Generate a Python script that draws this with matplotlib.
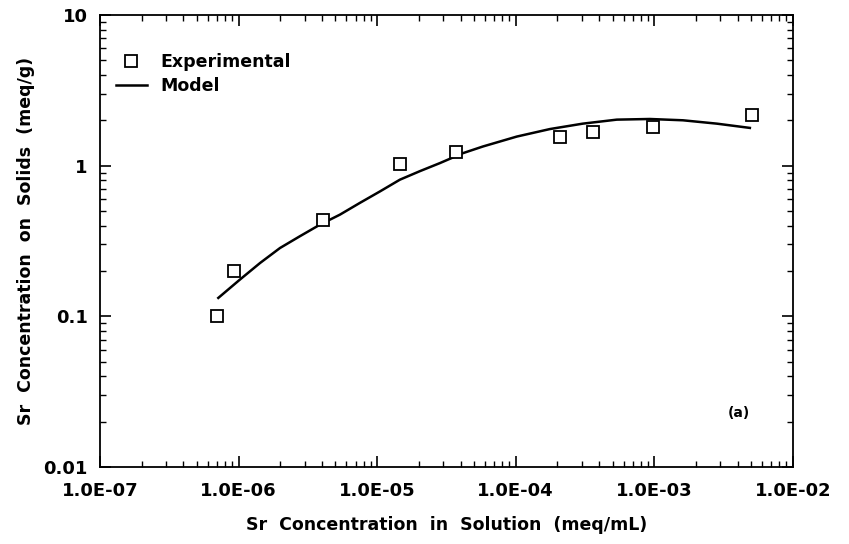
import matplotlib
matplotlib.use('Agg')
import matplotlib.pyplot as plt
import matplotlib.ticker as ticker
import numpy as np

# Experimental points
exp_conc_soln = [7.0e-7, 9.3e-7, 4.05e-6, 1.46e-5, 3.7e-5, 2.08e-4, 3.6e-4, 9.8e-4, 5.06e-3]
exp_conc_solid = [0.10, 0.20, 0.436, 1.03, 1.24, 1.56, 1.66, 1.81, 2.18]

# Model curve
model_conc_soln = [7.14e-7, 1.02e-6, 1.43e-6, 1.99e-6, 2.77e-6, 3.87e-6, 5.39e-6,
                   7.51e-6, 1.05e-5, 1.46e-5, 2.04e-5, 2.84e-5, 4.16e-5, 5.80e-5,
                   1.02e-4, 1.77e-4, 3.05e-4, 5.37e-4, 9.30e-4, 1.61e-3, 2.83e-3, 4.90e-3]
model_conc_solid = [0.1325, 0.175, 0.226, 0.284, 0.340, 0.406, 0.473,
                    0.566, 0.675, 0.807, 0.92, 1.04, 1.21, 1.34,
                    1.56, 1.75, 1.90, 2.02, 2.04, 2.00, 1.90, 1.78]

x_ticks = [1e-7, 1e-6, 1e-5, 1e-4, 1e-3, 1e-2]
x_tick_labels = ['1.0E-07', '1.0E-06', '1.0E-05', '1.0E-04', '1.0E-03', '1.0E-02']
y_ticks = [0.01, 0.1, 1, 10]
y_tick_labels = ['0.01', '0.1', '1', '10']

plt.rcParams['font.family'] = ['DejaVu Sans']
plt.rcParams['font.weight'] = 'bold'

fig = plt.figure(figsize=(8.49, 5.44), dpi=100)
ax = fig.add_axes([0.1178, 0.1415, 0.816, 0.831])

ax.plot(model_conc_soln, model_conc_solid, '-', color='black', linewidth=1.8, label='Model')
ax.plot(exp_conc_soln, exp_conc_solid, 's', markersize=9, markerfacecolor='white',
        markeredgecolor='black', markeredgewidth=1.3, label='Experimental')

ax.set_xscale('log')
ax.set_yscale('log')
ax.set_xlim(1e-7, 1e-2)
ax.set_ylim(0.01, 10)

ax.set_xticks(x_ticks)
ax.set_xticklabels(x_tick_labels)
ax.set_yticks(y_ticks)
ax.set_yticklabels(y_tick_labels)
ax.xaxis.set_minor_locator(ticker.LogLocator(base=10, subs=np.arange(2, 10)))
ax.yaxis.set_minor_locator(ticker.LogLocator(base=10, subs=np.arange(2, 10)))
ax.xaxis.set_minor_formatter(ticker.NullFormatter())
ax.yaxis.set_minor_formatter(ticker.NullFormatter())

ax.tick_params(which='both', direction='in', top=True, right=True, labelsize=13)
ax.tick_params(which='major', length=8, width=1.2)
ax.tick_params(which='minor', length=4.5, width=1.0)
ax.tick_params(axis='x', which='major', pad=11)
ax.tick_params(axis='y', which='major', pad=9)
for s in ax.spines.values():
    s.set_linewidth(1.3)

ax.set_xlabel('Sr  Concentration  in  Solution  (meq/mL)', fontsize=12.5, fontweight='bold', labelpad=11)
ax.set_ylabel('Sr  Concentration  on  Solids  (meq/g)', fontsize=12.5, fontweight='bold', labelpad=6)

handles, labels = ax.get_legend_handles_labels()
ax.legend(handles[::-1], labels[::-1], loc='upper left', bbox_to_anchor=(0.0, 0.95),
          frameon=False, fontsize=12.5, handlelength=1.8, borderaxespad=0.5, labelspacing=0.35)

ax.text(0.922, 0.12, '(a)', transform=ax.transAxes, fontsize=10, fontweight='bold',
        ha='center', va='center')

fig.savefig('out.png', dpi=100)
